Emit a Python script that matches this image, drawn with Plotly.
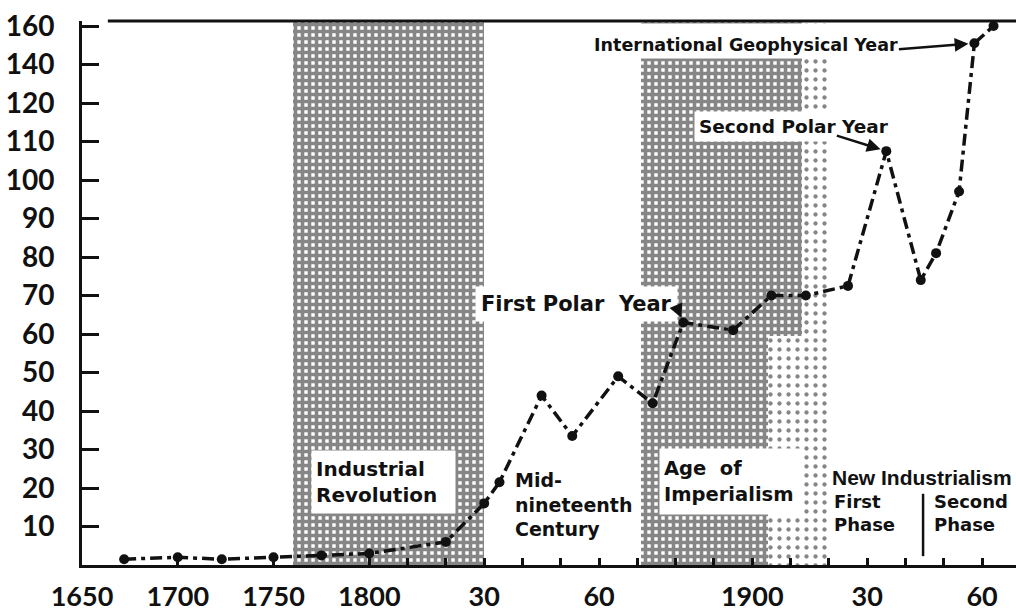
import plotly.graph_objects as go

# ---------------- data ----------------
years = [1672, 1700, 1723, 1750, 1775, 1800, 1820, 1830, 1834, 1845, 1853, 1865,
         1874, 1882, 1895, 1905, 1914, 1925, 1935, 1944, 1948, 1954, 1958, 1963]
values = [1.5, 2, 1.5, 2, 2.5, 3, 6, 16, 21.5, 44, 33.5, 49,
          42, 63, 61, 70, 70, 72.5, 107.5, 74, 81, 97, 151, 160]

tick_years = [1650, 1700, 1750] + list(range(1800, 1961, 10))
tick_names = {1650: "1650", 1700: "1700", 1750: "1750", 1800: "1800",
              1830: "30", 1860: "60", 1900: "1900", 1930: "30", 1960: "60"}
value_ticks = [10, 20, 30, 40, 50, 60, 70, 80, 90, 100, 110, 120, 140, 160]

eras = [("Industrial Revolution", 1760, 1830), ("Age of Imperialism", 1871, 1920)]


# ---------------- broken scales ----------------
def x_pos(year):
    """Years before 1800 are drawn at half the scale of later years."""
    return year if year >= 1800 else 1800 + (year - 1800) / 2


def y_pos(v):
    """Above 120 the vertical scale is halved."""
    return v if v <= 120 else 120 + (v - 120) / 2


X0 = x_pos(1650)
X1 = X0 + 934 / 3.83
Y_TOP = 141.3

DENSE = dict(shape="+", size=7, solidity=0.76, fgcolor="#0d0d0d", bgcolor="white")
SPARSE = dict(shape=".", size=9, solidity=0.18, fgcolor="#0d0d0d", bgcolor="white")

(_, ir0, ir1), (_, ai0, ai1) = eras
# shaded blocks: (start year, end year, bottom value, top) ; top=None -> frame top
blocks = [
    (ir0, ir1, 0, None, DENSE),
    (ai0, 1904, 0, None, DENSE),
    (1904, 1913, 59.5, None, DENSE),
    (1904, ai1, 0, 59.5, SPARSE),
    (1913, ai1, 59.5, None, SPARSE),
]

fig = go.Figure()

for a, b, lo, hi, pat in blocks:
    xa, xb = x_pos(a), x_pos(b)
    base = y_pos(lo)
    top = Y_TOP if hi is None else y_pos(hi)
    fig.add_trace(go.Bar(
        x=[(xa + xb) / 2], y=[top - base], base=[base], width=[xb - xa],
        marker=dict(color="white", line=dict(width=0), pattern=pat),
        hoverinfo="skip", showlegend=False,
    ))

fig.add_trace(go.Scatter(
    x=[x_pos(y) for y in years], y=[y_pos(v) for v in values],
    mode="lines+markers",
    line=dict(color="#111111", width=3.5, dash="12px,5px,4px,5px"),
    marker=dict(size=10, color="#111111"),
    hoverinfo="skip", showlegend=False,
))

LAB = dict(family="DejaVu Sans", size=20, color="#111111", weight="bold")
LAB_N = dict(family="Liberation Sans, Arial", size=20, color="#111111", weight="bold")

annotations = [
    # International Geophysical Year
    dict(x=x_pos(1897.1), y=y_pos(152), text="International Geophysical Year",
         showarrow=False, width=314, height=28, align="right", valign="bottom",
         bgcolor="white", borderpad=3, font={**LAB, "size": 17.5}),
    dict(x=x_pos(1958), y=y_pos(151), text="", showarrow=True, ax=-77, ay=6,
         arrowhead=2, arrowsize=1.1, arrowwidth=2.5, arrowcolor="#111111", standoff=6),
    # Second Polar Year
    dict(x=x_pos(1910.8), y=y_pos(114), text="Second Polar Year", showarrow=False,
         bgcolor="white", borderpad=4, font={**LAB, "size": 18.5}),
    dict(x=x_pos(1935), y=y_pos(107.5), text="", showarrow=True, ax=-51, ay=-16,
         arrowhead=2, arrowsize=1.1, arrowwidth=2.5, arrowcolor="#111111", standoff=6),
    # First Polar Year
    dict(x=x_pos(1854.1), y=y_pos(67.7), text="First\u00a0Polar\u00a0\u00a0Year",
         showarrow=False, bgcolor="white", borderpad=5, font={**LAB, "size": 21}),
    dict(x=x_pos(1882), y=y_pos(63), text="", showarrow=True, ax=-6, ay=-14,
         arrowhead=2, arrowsize=1.1, arrowwidth=2.5, arrowcolor="#111111", standoff=5),
    # era labels
    dict(x=x_pos(1803.7), y=y_pos(21.5), text="Industrial<br>Revolution", showarrow=False,
         width=135, height=54, align="left", bgcolor="white", borderpad=4, font=LAB),
    dict(x=x_pos(1894.2), y=y_pos(21.7), text="Age\u00a0\u00a0of<br>Imperialism",
         showarrow=False, width=132, height=57, align="left", bgcolor="white",
         borderpad=4, font={**LAB, "size": 19.5}),
    dict(x=x_pos(1837.5), y=y_pos(15.8), text="Mid-<br>nineteenth<br>Century",
         showarrow=False, xanchor="left", align="left", font={**LAB, "size": 19}),
    dict(x=x_pos(1920.3), y=y_pos(22.8), text="New Industrialism", showarrow=False,
         xanchor="left", font={**LAB_N, "size": 21}),
    dict(x=x_pos(1920.8), y=y_pos(13.4), text="First<br>Phase", showarrow=False,
         xanchor="left", align="left", font={**LAB, "size": 18}),
    dict(x=x_pos(1946.9), y=y_pos(13.4), text="Second<br>Phase", showarrow=False,
         xanchor="left", align="left", font={**LAB, "size": 18}),
]

shapes = [
    # frame line across the top
    dict(type="line", xref="x", yref="paper", x0=x_pos(1663.5), x1=X1, y0=1, y1=1,
         line=dict(color="#111111", width=3)),
    # divider between the two phases of new industrialism
    dict(type="line", xref="x", yref="y", x0=x_pos(1944.6), x1=x_pos(1944.6),
         y0=y_pos(2.3), y1=y_pos(18.5), line=dict(color="#111111", width=2.5)),
]

TICK_FONT = dict(family="Lato, DejaVu Sans", size=27, color="#111111", weight="bold")

fig.update_layout(
    width=1016, height=612,
    margin=dict(l=82, r=0, t=21, b=40),
    paper_bgcolor="white", plot_bgcolor="white",
    barmode="overlay", bargap=0,
    annotations=annotations, shapes=shapes,
    xaxis=dict(
        range=[X0, X1], showgrid=False, zeroline=False,
        showline=True, linewidth=3, linecolor="#111111",
        tickmode="array", tickvals=[x_pos(y) for y in tick_years],
        ticktext=[tick_names.get(y, "") for y in tick_years],
        ticks="inside", ticklen=7, tickwidth=2.5, tickcolor="#111111",
        tickfont=TICK_FONT, ticklabelstandoff=6,
    ),
    yaxis=dict(
        range=[0, Y_TOP], showgrid=False, zeroline=False,
        showline=True, linewidth=3, linecolor="#111111",
        tickmode="array", tickvals=[y_pos(v) for v in value_ticks],
        ticktext=[str(v) for v in value_ticks],
        ticks="inside", ticklen=17, tickwidth=3, tickcolor="#111111",
        tickfont={**TICK_FONT, "size": 28}, ticklabelstandoff=19,
    ),
)

fig.write_html("out.html")
